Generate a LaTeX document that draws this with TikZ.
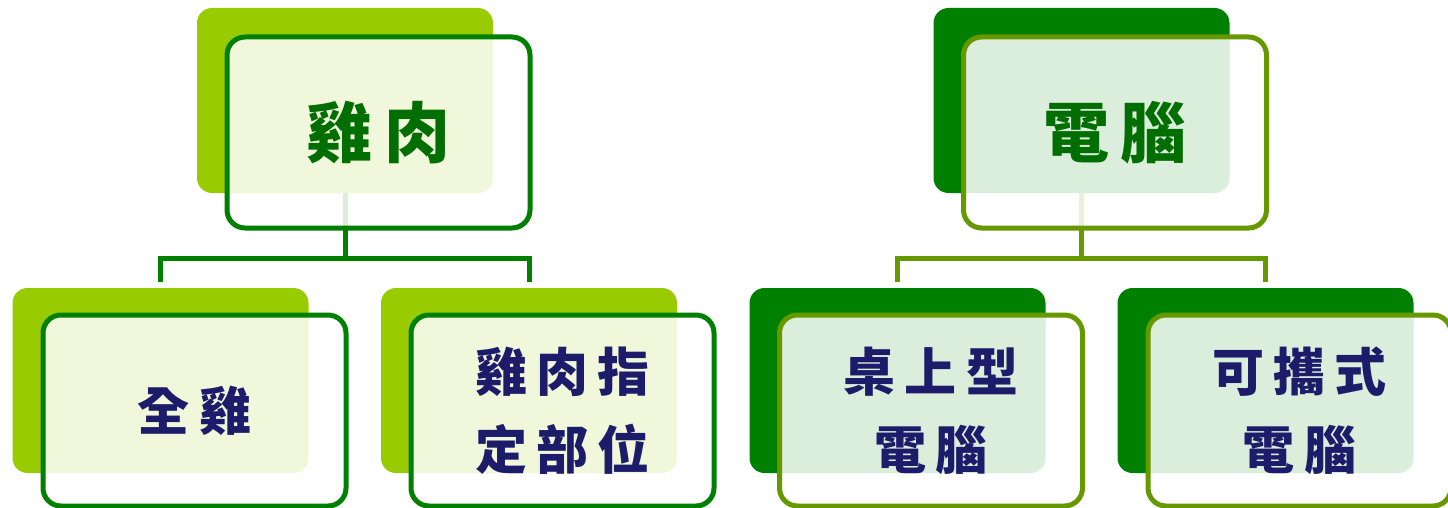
\documentclass[tikz,border=0pt]{standalone}
\usepackage{fontspec}
\usepackage{xcolor}
\newfontfamily\cjkfont[LetterSpace=18]{Noto Sans CJK TC}
\definecolor{lightleaf}{HTML}{99CC00}
\definecolor{darkleaf}{HTML}{008000}
\definecolor{oliveleaf}{HTML}{669900}
\definecolor{roottext}{HTML}{006E00}
\definecolor{childtext}{HTML}{1C1C6A}
\tikzset{
  backbox/.style={rounded corners=15pt, minimum width=296pt, minimum height=185pt, inner sep=0pt},
  frontbox/.style={draw, line width=5pt, rounded corners=18pt, fill=white, fill opacity=0.86,
    text opacity=1, minimum width=303pt, minimum height=191pt, inner sep=0pt, align=center},
  roottitle/.style={font=\cjkfont\bfseries\fontsize{66}{80}\selectfont, text=roottext},
  childtitle/.style={font=\cjkfont\bfseries\fontsize{52}{78}\selectfont, text=childtext},
  link/.style={line width=5pt}
}
\begin{document}
\begin{tikzpicture}[x=1pt,y=-1pt]
  \useasboundingbox (0,0) rectangle (1448,508);

  % back boxes
  \node[backbox, fill=lightleaf] (meatb) at (345,100.5) {};
  \node[backbox, fill=lightleaf] (wholeb) at (160.5,380.5) {};
  \node[backbox, fill=lightleaf] (partb) at (529,380.5) {};
  \node[backbox, fill=darkleaf] (pcb) at (1081.5,100.5) {};
  \node[backbox, fill=darkleaf] (deskb) at (897.5,380.5) {};
  \node[backbox, fill=darkleaf] (lapb) at (1265.5,380.5) {};

  % connectors
  \draw[link, darkleaf] (meatb.south) -- ++(0,65) coordinate (meatj);
  \draw[link, darkleaf] ([yshift=6pt]wholeb.north) |- (meatj) -| ([yshift=6pt]partb.north);
  \draw[link, oliveleaf] (pcb.south) -- ++(0,65) coordinate (pcj);
  \draw[link, oliveleaf] ([yshift=6pt]deskb.north) |- (pcj) -| ([yshift=6pt]lapb.north);

  % front boxes
  \node[frontbox, draw=darkleaf, roottitle] (meat) at (378.5,132.5) {雞肉};
  \node[frontbox, draw=darkleaf, childtitle] (whole) at (194.5,410.5) {全雞};
  \node[frontbox, draw=darkleaf, childtitle] (part) at (562.5,410.5) {雞肉指\\定部位};
  \node[frontbox, draw=oliveleaf, roottitle] (pc) at (1115,132.5) {電腦};
  \node[frontbox, draw=oliveleaf, childtitle] (desk) at (931,410.5) {桌上型\\電腦};
  \node[frontbox, draw=oliveleaf, childtitle] (lap) at (1299.5,410.5) {可攜式\\電腦};
\end{tikzpicture}
\end{document}
